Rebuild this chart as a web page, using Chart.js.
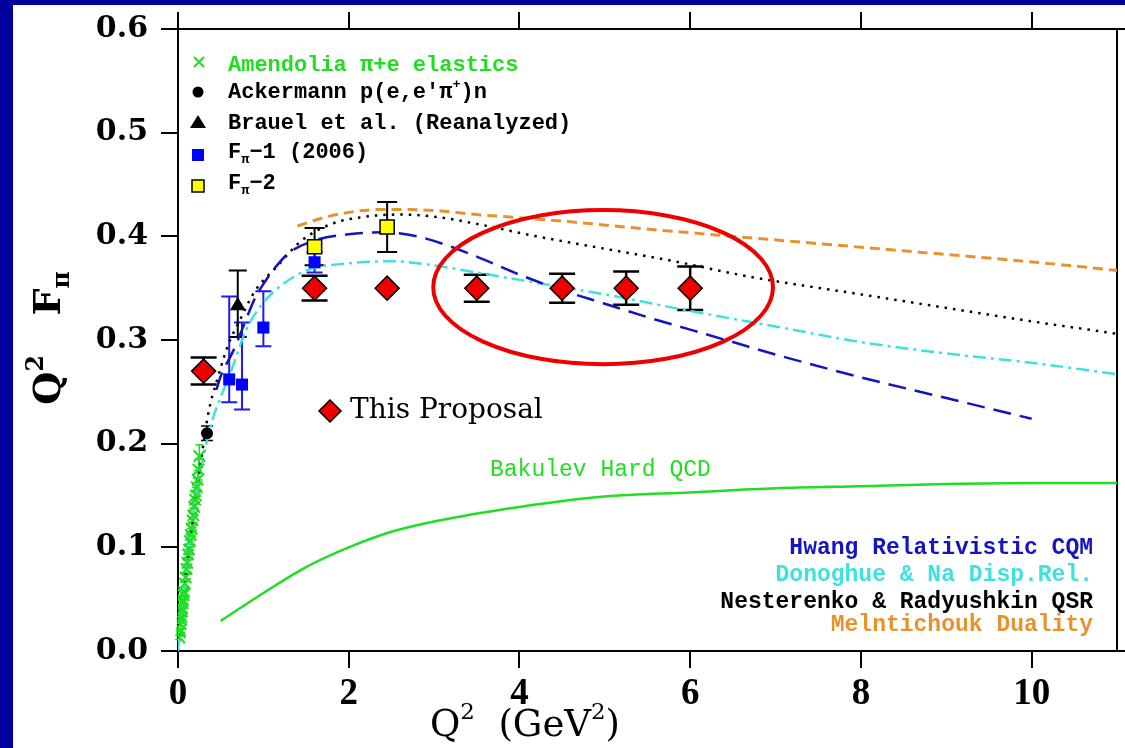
<!DOCTYPE html>
<html>
<head>
<meta charset="utf-8">
<script src="https://cdn.jsdelivr.net/npm/chart.js@4.4.1/dist/chart.umd.min.js"></script>
<style>
html, body { margin: 0; padding: 0; background: #00009c; width: 1125px; height: 748px; overflow: hidden; }
#wrap { position: absolute; left: 13px; top: 5px; width: 1112px; height: 743px; background: #fff; }
</style>
</head>
<body>
<div id="wrap"><canvas id="chart" width="1112" height="743"></canvas></div>
<script>
// axis ticks
const xTicks = [0, 2, 4, 6, 8, 10];
const yTicks = [0, 0.1, 0.2, 0.3, 0.4, 0.5, 0.6];

// data points (Q^2 in GeV^2, Q^2 F_pi)
const amendQ = [0.015, 0.02, 0.025, 0.03, 0.035, 0.04, 0.045, 0.05, 0.055, 0.06, 0.065, 0.07, 0.08, 0.09, 0.10,
  0.11, 0.12, 0.13, 0.14, 0.15, 0.16, 0.17, 0.18, 0.19, 0.20, 0.21, 0.22, 0.23, 0.24, 0.25];
const amendF = [0.013, 0.018, 0.02, 0.026, 0.03, 0.033, 0.038, 0.041, 0.046, 0.049, 0.054, 0.057, 0.065, 0.071, 0.079,
  0.085, 0.093, 0.098, 0.106, 0.112, 0.118, 0.126, 0.131, 0.139, 0.146, 0.150, 0.158, 0.165, 0.175, 0.188];
const amendErr = [0.002, 0.002, 0.002, 0.002, 0.003, 0.003, 0.003, 0.003, 0.003, 0.003, 0.004, 0.004, 0.004, 0.004, 0.005,
  0.005, 0.005, 0.005, 0.006, 0.006, 0.006, 0.007, 0.007, 0.007, 0.008, 0.008, 0.009, 0.009, 0.010, 0.011];

const ackQ = [0.34];
const ackF = [0.21];
const ackErr = [0.007];

const brauelQ = [0.70];
const brauelF = [0.333];
const brauelErrUp = [0.034];
const brauelErrDn = [0.030];

const fpi1Q = [0.60, 0.75, 1.00, 1.60];
const fpi1F = [0.262, 0.257, 0.312, 0.375];
const fpi1ErrUp = [0.080, 0.060, 0.035, 0.010];
const fpi1ErrDn = [0.022, 0.024, 0.018, 0.010];

const fpi2Q = [1.60, 2.45];
const fpi2F = [0.390, 0.409];
const fpi2Err = [0.018, 0.024];

const propQ = [0.30, 1.60, 2.45, 3.50, 4.50, 5.25, 6.00];
const propF = [0.270, 0.350, 0.350, 0.350, 0.350, 0.350, 0.350];
const propErr = [0.013, 0.012, 0.0, 0.013, 0.014, 0.016, 0.021];

// model curves
const hwangQ = [0.45, 0.5, 0.65, 0.75, 0.9, 1.0, 1.15, 1.3, 1.6, 2.0, 2.4, 2.8, 3.2, 3.6, 4.0, 4.5, 5.0, 5.5, 6.0, 6.5, 7.0, 8.0, 9.0, 10.0];
const hwangF = [0.252, 0.265, 0.29, 0.31, 0.34, 0.354, 0.371, 0.384, 0.396, 0.402, 0.404, 0.400, 0.390, 0.377, 0.363, 0.348, 0.335, 0.322, 0.310, 0.298, 0.286, 0.264, 0.244, 0.224];

const donoQ = [0, 0.05, 0.1, 0.2, 0.3, 0.4, 0.5, 0.6, 0.8, 1.0, 1.2, 1.5, 2.0, 2.5, 3.0, 3.5, 4.0, 4.5, 5.0, 6.0, 7.0, 8.0, 9.0, 10.0, 11.0];
const donoF = [0, 0.045, 0.083, 0.143, 0.188, 0.222, 0.245, 0.265, 0.31, 0.336, 0.352, 0.367, 0.374, 0.376, 0.372, 0.365, 0.358, 0.351, 0.344, 0.328, 0.313, 0.298, 0.287, 0.278, 0.267];

const nestQ = [0, 0.1, 0.2, 0.35, 0.46, 0.6, 0.7, 0.9, 1.16, 1.45, 1.8, 2.2, 2.6, 3.0, 3.5, 4.2, 5.0, 5.75, 6.7, 8.0, 9.0, 10.0, 11.0];
const nestF = [0, 0.08, 0.14, 0.227, 0.262, 0.298, 0.315, 0.347, 0.371, 0.396, 0.412, 0.419, 0.421, 0.419, 0.412, 0.400, 0.388, 0.377, 0.361, 0.344, 0.331, 0.318, 0.306];

const melQ = [1.4, 1.8, 2.4, 3.0, 3.5, 4.0, 4.6, 5.5, 6.5, 7.5, 8.5, 9.5, 10.3, 11.0];
const melF = [0.410, 0.420, 0.426, 0.425, 0.421, 0.418, 0.414, 0.407, 0.400, 0.393, 0.386, 0.379, 0.373, 0.367];

const bakQ = [0.5, 1.0, 1.5, 2.0, 2.5, 3.0, 4.0, 5.0, 6.0, 7.0, 8.0, 9.0, 10.0, 11.0];
const bakF = [0.029, 0.056, 0.081, 0.100, 0.115, 0.125, 0.139, 0.149, 0.153, 0.157, 0.159, 0.161, 0.162, 0.162];

// highlighted region (ellipse) in data units
const ellipseCenter = [4.98, 0.351];
const ellipseRadii = [1.99, 0.0743];

const pts = (q, f) => q.map((v, i) => ({ x: v, y: f[i] }));

const GREEN = '#22dd22';
const NAVY = '#1414c0';
const CYAN = '#3ee0e0';
const ORANGE = '#e8922e';
const RED = '#ee0000';

const errorBars = {
  id: 'errorBars',
  beforeDatasetsDraw(chart) {
    const { ctx, scales: { x, y } } = chart;
    ctx.save();
    chart.data.datasets.forEach(ds => {
      if (!ds.errUp) return;
      ctx.strokeStyle = ds.errColor;
      ctx.lineWidth = ds.errWidth || 2;
      ds.data.forEach((p, i) => {
        if (!ds.errUp[i] && !ds.errDn[i]) return;
        const px = x.getPixelForValue(p.x);
        const top = y.getPixelForValue(p.y + ds.errUp[i]);
        const bot = y.getPixelForValue(p.y - ds.errDn[i]);
        const c = ds.capHalf;
        ctx.beginPath();
        ctx.moveTo(px, top); ctx.lineTo(px, bot);
        ctx.moveTo(px - c, top); ctx.lineTo(px + c, top);
        ctx.moveTo(px - c, bot); ctx.lineTo(px + c, bot);
        ctx.stroke();
      });
    });
    ctx.restore();
  }
};

// text with sub/superscripts: parts = [text] or [text, 'sup'|'sub']
function rich(ctx, parts, x, y, size, family, weight, color, align) {
  ctx.save();
  ctx.fillStyle = color;
  ctx.textBaseline = 'middle';
  ctx.textAlign = 'left';
  const fontFor = s => `${weight} ${s}px ${family}`;
  let total = 0;
  parts.forEach(p => {
    const s = p[1] ? size * 0.62 : size;
    ctx.font = fontFor(s);
    total += ctx.measureText(p[0]).width;
  });
  let cx = align === 'right' ? x - total : align === 'center' ? x - total / 2 : x;
  parts.forEach(p => {
    const s = p[1] ? size * 0.62 : size;
    ctx.font = fontFor(s);
    const dy = p[1] === 'sup' ? -size * 0.35 : p[1] === 'sub' ? size * 0.35 : 0;
    ctx.fillText(p[0], cx, y + dy);
    cx += ctx.measureText(p[0]).width;
  });
  ctx.restore();
}

const annotations = {
  id: 'annotations',
  afterDatasetsDraw(chart) {
    const { ctx, scales: { x, y } } = chart;
    // red ellipse
    const cx = x.getPixelForValue(ellipseCenter[0]);
    const cy = y.getPixelForValue(ellipseCenter[1]);
    const rx = x.getPixelForValue(ellipseCenter[0] + ellipseRadii[0]) - cx;
    const ry = cy - y.getPixelForValue(ellipseCenter[1] + ellipseRadii[1]);
    ctx.save();
    ctx.strokeStyle = RED;
    ctx.lineWidth = 4;
    ctx.beginPath();
    ctx.ellipse(cx, cy, rx, ry, 0, 0, Math.PI * 2);
    ctx.stroke();
    ctx.restore();
  },
  afterDraw(chart) {
    const ctx = chart.ctx;
    const area = chart.chartArea;
    ctx.save();
    // axis lines run on to the right edge
    ctx.strokeStyle = '#000';
    ctx.lineWidth = 2;
    ctx.beginPath();
    ctx.moveTo(area.right, area.top); ctx.lineTo(1112, area.top);
    ctx.moveTo(area.right, area.bottom); ctx.lineTo(1112, area.bottom);
    ctx.stroke();

    // top-left legend markers
    ctx.strokeStyle = GREEN; ctx.lineWidth = 2;
    ctx.beginPath();
    ctx.moveTo(181, 52); ctx.lineTo(191, 62); ctx.moveTo(191, 52); ctx.lineTo(181, 62);
    ctx.stroke();
    ctx.fillStyle = '#000';
    ctx.beginPath(); ctx.arc(185, 87, 5.5, 0, Math.PI * 2); ctx.fill();
    ctx.beginPath(); ctx.moveTo(185, 110); ctx.lineTo(193, 123); ctx.lineTo(177, 123); ctx.closePath(); ctx.fill();
    ctx.fillStyle = '#0000ff'; ctx.fillRect(179, 144, 12, 12);
    ctx.fillStyle = '#ffff00'; ctx.fillRect(179, 175, 12, 12);
    ctx.strokeStyle = '#000'; ctx.lineWidth = 1.5; ctx.strokeRect(179, 175, 12, 12);
    // "This Proposal" diamond
    ctx.fillStyle = RED; ctx.strokeStyle = '#000'; ctx.lineWidth = 1.5;
    ctx.beginPath(); ctx.moveTo(317, 395); ctx.lineTo(328, 406); ctx.lineTo(317, 417); ctx.lineTo(306, 406); ctx.closePath();
    ctx.fill(); ctx.stroke();
    ctx.restore();

    const mono = '"Liberation Mono", monospace';
    const serif = '"DejaVu Serif", serif';
    rich(ctx, [['Amendolia \u03c0+e elastics']], 215, 60, 22, mono, 'bold', GREEN, 'left');
    rich(ctx, [['Ackermann p(e,e\u2032\u03c0'], ['+', 'sup'], [')n']], 215, 87, 22, mono, 'bold', '#000', 'left');
    rich(ctx, [['Brauel et al. (Reanalyzed)']], 215, 118, 22, mono, 'bold', '#000', 'left');
    rich(ctx, [['F'], ['\u03c0', 'sub'], ['\u22121 (2006)']], 215, 147, 22, mono, 'bold', '#000', 'left');
    rich(ctx, [['F'], ['\u03c0', 'sub'], ['\u22122']], 215, 178, 22, mono, 'bold', '#000', 'left');
    rich(ctx, [['This Proposal']], 337, 406, 28, serif, 'normal', '#000', 'left');
    rich(ctx, [['Bakulev Hard QCD']], 477, 465, 23, mono, 'normal', GREEN, 'left');
    rich(ctx, [['Hwang Relativistic CQM']], 1080, 543, 23, mono, 'bold', NAVY, 'right');
    rich(ctx, [['Donoghue & Na Disp.Rel.']], 1080, 570, 23, mono, 'bold', CYAN, 'right');
    rich(ctx, [['Nesterenko & Radyushkin QSR']], 1080, 597, 23, mono, 'bold', '#000', 'right');
    rich(ctx, [['Melntichouk Duality']], 1080, 620, 23, mono, 'bold', ORANGE, 'right');

    // axis titles
    rich(ctx, [['Q'], ['2', 'sup'], ['  (GeV'], ['2', 'sup'], [')']], 512, 721, 37, serif, 'normal', '#000', 'center');
    ctx.save();
    ctx.translate(37, 333);
    ctx.rotate(-Math.PI / 2);
    rich(ctx, [['Q'], ['2', 'sup'], ['   F'], ['\u03c0', 'sub']], 0, 0, 38, serif, 'bold', '#000', 'center');
    ctx.restore();
  }
};

const noPad = s => { s.paddingLeft = 0; s.paddingRight = 0; s.paddingTop = 0; s.paddingBottom = 0; };
const gridOpts = { drawOnChartArea: false, tickLength: 17, tickColor: '#000', lineWidth: 2 };
const borderOpts = { color: '#000', width: 2 };

new Chart(document.getElementById('chart'), {
  type: 'scatter',
  data: {
    datasets: [
      { data: pts(propQ, propF), pointStyle: 'rectRot', pointRadius: 12, backgroundColor: RED, borderColor: '#000', borderWidth: 1.5,
        errUp: propErr, errDn: propErr, errColor: '#000', capHalf: 13, errWidth: 2.5 },
      { data: pts(fpi2Q, fpi2F), pointStyle: 'rect', pointRadius: 10, backgroundColor: '#ffff00', borderColor: '#000', borderWidth: 1.5,
        errUp: fpi2Err, errDn: fpi2Err, errColor: '#000', capHalf: 10, errWidth: 2 },
      { data: pts(fpi1Q, fpi1F), pointStyle: 'rect', pointRadius: 8.5, backgroundColor: '#0000ff', borderColor: '#0000ff', borderWidth: 0,
        errUp: fpi1ErrUp, errDn: fpi1ErrDn, errColor: '#1a1aff', capHalf: 8, errWidth: 2 },
      { data: pts(brauelQ, brauelF), pointStyle: 'triangle', pointRadius: 9, backgroundColor: '#000', borderColor: '#000', borderWidth: 0,
        errUp: brauelErrUp, errDn: brauelErrDn, errColor: '#000', capHalf: 9, errWidth: 2 },
      { data: pts(ackQ, ackF), pointStyle: 'circle', pointRadius: 6, backgroundColor: '#000', borderColor: '#000', borderWidth: 0,
        errUp: ackErr, errDn: ackErr, errColor: '#000', capHalf: 6, errWidth: 1.5 },
      { data: pts(amendQ, amendF), pointStyle: 'crossRot', pointRadius: 8, borderColor: GREEN, borderWidth: 2,
        errUp: amendErr, errDn: amendErr, errColor: GREEN, capHalf: 4, errWidth: 1.5 },
      { data: pts(hwangQ, hwangF), showLine: true, pointRadius: 0, borderColor: NAVY, borderWidth: 2.5, borderDash: [18, 9], cubicInterpolationMode: 'monotone' },
      { data: pts(donoQ, donoF), showLine: true, pointRadius: 0, borderColor: CYAN, borderWidth: 2.5, borderDash: [13, 5, 3, 5], cubicInterpolationMode: 'monotone' },
      { data: pts(nestQ, nestF), showLine: true, pointRadius: 0, borderColor: '#000', borderWidth: 2.5, borderDash: [2.5, 6], cubicInterpolationMode: 'monotone' },
      { data: pts(melQ, melF), showLine: true, pointRadius: 0, borderColor: ORANGE, borderWidth: 3, borderDash: [10, 6], cubicInterpolationMode: 'monotone' },
      { data: pts(bakQ, bakF), showLine: true, pointRadius: 0, borderColor: GREEN, borderWidth: 2.5, cubicInterpolationMode: 'monotone' }
    ]
  },
  options: {
    responsive: false,
    animation: false,
    events: [],
    layout: { padding: 0, autoPadding: false },
    plugins: { legend: { display: false }, tooltip: { enabled: false } },
    scales: {
      x: {
        type: 'linear', position: 'bottom', min: 0, max: 11,
        afterBuildTicks: s => { s.ticks = xTicks.map(v => ({ value: v })); },
        afterFit: s => { s.height = 97; noPad(s); },
        ticks: { color: '#000', padding: 4, maxRotation: 0, font: { family: '"Liberation Serif", serif', size: 37, weight: 'bold' }, callback: v => String(v) },
        grid: gridOpts, border: borderOpts
      },
      x2: {
        type: 'linear', axis: 'x', position: 'top', min: 0, max: 11,
        afterBuildTicks: s => { s.ticks = xTicks.map(v => ({ value: v })); },
        afterFit: s => { s.height = 24; noPad(s); },
        ticks: { display: false },
        grid: gridOpts, border: borderOpts
      },
      y: {
        type: 'linear', position: 'left', min: 0, max: 0.6,
        afterBuildTicks: s => { s.ticks = yTicks.map(v => ({ value: v })); },
        afterFit: s => { s.width = 165; noPad(s); },
        ticks: { color: '#000', padding: 13, font: { family: '"DejaVu Serif", serif', size: 30, weight: 'bold' }, callback: v => v.toFixed(1) },
        grid: gridOpts, border: borderOpts
      },
      y2: {
        type: 'linear', axis: 'y', position: 'right', min: 0, max: 0.6,
        afterFit: s => { s.width = 8; noPad(s); },
        ticks: { display: false },
        grid: { display: false, drawTicks: false }, border: borderOpts
      }
    }
  },
  plugins: [errorBars, annotations]
});
</script>
</body>
</html>
